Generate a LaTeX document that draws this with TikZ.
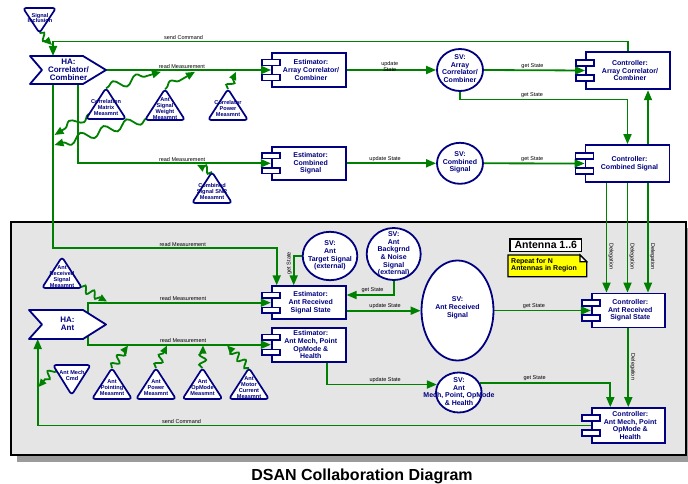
\documentclass[tikz,border=0pt]{standalone}
\usepackage{fontspec}
\setmainfont{Liberation Sans}
\usetikzlibrary{arrows.meta,decorations.pathmorphing,shapes.geometric}
\definecolor{lgreen}{RGB}{0,128,0}
\definecolor{navy}{RGB}{0,0,128}
\definecolor{panel}{RGB}{229,229,229}
\definecolor{shadowc}{RGB}{155,155,155}
\definecolor{noteyel}{RGB}{255,255,0}
\pgfdeclarelayer{bg}
\pgfdeclarelayer{mid}
\pgfsetlayers{bg,mid,main}
\newcommand\tkfs[2]{\fontsize{#1}{#2}\selectfont}
\tikzset{
  wire/.style={draw=lgreen, line width=1.8pt},
  conn/.style={wire, -{Triangle[length=10pt,width=8pt]}},
  squig/.style={wire, -{Triangle[length=9pt,width=7.5pt]}, decorate,
    decoration={snake, amplitude=4.5pt, segment length=24pt, pre length=1pt, post length=8pt}},
  squigs/.style={wire, -{Triangle[length=8pt,width=7pt]}, decorate,
    decoration={snake, amplitude=3.5pt, segment length=10pt, pre length=0pt, post length=5pt}},
  lbl/.style={font=\tkfs{5.5}{6}, text=black, inner sep=1pt},
  compbox/.style={draw=navy, fill=white, line width=1.8pt, inner sep=0pt},
  tabbox/.style={draw=navy, fill=white, line width=1.5pt},
  comptext/.style={font=\bfseries\tkfs{7}{7.6}, text=navy, align=center, inner sep=0pt},
  svshape/.style={ellipse, draw=navy, fill=white, line width=1.8pt, inner sep=0pt},
  svtext/.style={font=\bfseries\tkfs{7}{7.6}, text=navy, align=center, inner sep=0pt},
  trishape/.style={draw=navy, fill=white, line width=1.7pt, rounded corners=3pt, line join=round},
  tritext/.style={font=\bfseries\tkfs{5.6}{5.9}, text=navy, align=center, inner sep=0pt},
  hashape/.style={draw=navy, fill=white, line width=1.8pt, line join=round},
  hatext/.style={font=\bfseries\tkfs{8}{8}, text=navy, align=center, inner sep=0pt},
}
% component box: name, x, y, width, height
\newcommand\compnode[5]{%
  \node[compbox, minimum width=#4, minimum height=#5] (#1) at (#2,#3) {};
  \draw[tabbox] ([xshift=-9pt,yshift=10.4pt]#1.west) rectangle ([xshift=9pt,yshift=4.6pt]#1.west);
  \draw[tabbox] ([xshift=-9pt,yshift=-4.6pt]#1.west) rectangle ([xshift=9pt,yshift=-10.4pt]#1.west);
}
% upward triangle: name, apex x, apex y, text
\newcommand\uptri[4]{%
  \draw[trishape] (#2,#3) -- ++(20,31) -- ++(-40,0) -- cycle;
  \coordinate (#1) at (#2,#3);
  \node[tritext] (#1T) at (#2,#3+19.5) {#4};
}
\begin{document}
\begin{tikzpicture}[x=1pt,y=-1pt]
\useasboundingbox (0,0) rectangle (688,484);

% ---------- antenna panel ----------
\begin{pgfonlayer}{bg}
  \fill[shadowc] (17,228) rectangle (688,461.5);
  \draw[fill=panel, line width=2pt] (11,222) rectangle (686,455);
\end{pgfonlayer}

% ---------- HA: Correlator/Combiner ----------
\draw[hashape] (30,56) -- (83,56) -- (106,70) -- (83,84) -- (30,84) -- (42,70) -- cycle;
\node[hatext] (haC) at (68.5,70) {HA:\\Correlator/\\Combiner};
\coordinate (haCtip) at (106,70);
\coordinate (haCtop) at (53,56);
\coordinate (haCb1) at (53,84);
\coordinate (haCb2) at (78,84);

% Signal Inclusion (inverted triangle)
\draw[trishape] (23,8) -- (56,8) -- (39.5,33) -- cycle;
\coordinate (sigInc) at (39.5,33);
\node[tritext] (sigIncT) at (40,18) {Signal\\Inclusion};

% ---------- top row ----------
\compnode{eArr}{309}{70}{74}{34}
\node[comptext, xshift=2pt] (eArrT) at (eArr) {Estimator:\\Array Correlator/\\Combiner};
\node[svshape, minimum width=46, minimum height=42] (sArr) at (460,70) {};
\node[svtext] (sArrT) at (460,68.5) {SV:\\Array\\Correlator/\\Combiner};
\compnode{cArr}{628}{70.5}{84}{37.6}
\node[comptext, xshift=2pt] (cArrT) at (cArr) {Controller:\\Array Correlator/\\Combiner};

% ---------- second row ----------
\compnode{eComb}{308.7}{163.3}{74}{33}
\node[comptext, xshift=2pt] (eCombT) at (eComb) {Estimator:\\Combined\\Signal};
\node[svshape, minimum width=46, minimum height=41] (sComb) at (460,163.3) {};
\node[svtext] (sCombT) at (460,162.5) {SV:\\Combined\\Signal};
\compnode{cComb}{627.5}{163.5}{84}{37}
\node[comptext, xshift=2pt] (cCombT) at (cComb) {Controller:\\Combined Signal};

% measurement triangles (top)
\uptri{corrMat}{106}{88}{Correlation\\Matrix\\Measmnt}
\uptri{sigW}{165}{89}{Ant\\Signal\\Weight\\Measmnt}
\uptri{corrPow}{228}{89}{Correlator\\Power\\Measmnt}
\uptri{combSNR}{212}{172}{Combined\\Signal SNR\\Measmnt}

% ---------- antenna panel contents ----------
\node[draw=black, fill=white, line width=1.6pt, minimum width=71.7, minimum height=12.7, inner sep=0pt,
      font=\bfseries\tkfs{10.5}{12}] (ant16) at (545.8,245.3) {Antenna 1..6};
\draw[fill=noteyel, line width=1.2pt] (508,255) -- (580,255) -- (586.7,261.7) -- (586.7,276.7) -- (508,276.7) -- cycle;
\draw[fill=white, line width=1.2pt] (580,255) -- (580,261.7) -- (586.7,261.7) -- cycle;
\node[anchor=north west, font=\bfseries\tkfs{7}{7.4}, align=left, inner sep=0pt] (noteT) at (511,257.8) {Repeat for N\\Antennas in Region};

% HA: Ant
\draw[hashape] (29,310) -- (83,310) -- (106,324.5) -- (83,339) -- (29,339) -- (42,324.5) -- cycle;
\node[hatext] (haAnt) at (67.5,323.5) {HA:\\Ant};
\coordinate (haAntV) at (88,324);
\coordinate (haAntB) at (37.7,339);

\uptri{antRx}{62}{257}{Ant\\Received\\Signal\\Measmnt}
\uptri{antPt}{112}{368}{Ant\\Pointing\\Measmnt}
\uptri{antPw}{156}{368}{Ant\\Power\\Measmnt}
\uptri{antOp}{202.5}{368}{Ant\\OpMode\\Measmnt}
\uptri{antMot}{249}{368}{Ant\\Motor\\Current\\Measmnt}

% Ant Mech Cmd (inverted triangle)
\draw[trishape] (53,365) -- (90.7,365) -- (71.7,395) -- cycle;
\coordinate (antCmd) at (55.5,367);
\node[tritext] (antCmdT) at (72,375.5) {Ant Mech\\Cmd};

\compnode{eRx}{308.7}{302.7}{74}{33}
\node[comptext, xshift=2pt] (eRxT) at (eRx) {Estimator:\\Ant Received\\Signal State};
\compnode{eMech}{308.8}{344.7}{74}{34}
\node[comptext, xshift=2pt] (eMechT) at (eMech) {Estimator:\\Ant Mech, Point\\OpMode \&\\Health};

\node[svshape, minimum width=54.6, minimum height=48.4] (sTgt) at (330,256) {};
\node[svtext] (sTgtT) at (330,255.5) {SV:\\Ant\\Target Signal\\(external)};
\node[svshape, minimum width=54, minimum height=52] (sBg) at (393.7,254) {};
\node[svtext] (sBgT) at (393.7,254) {SV:\\Ant\\Backgrnd\\\& Noise\\Signal\\(external)};
\node[svshape, minimum width=72, minimum height=100] (sRx) at (457.5,310.5) {};
\node[svtext] (sRxT) at (457.5,307.7) {SV:\\Ant Received\\Signal};
\node[svshape, minimum width=45.6, minimum height=40] (sMech) at (458.8,392.5) {};
\node[svtext] (sMechT) at (459,391.5) {SV:\\Ant\\Mech, Point, OpMode\\\& Health};

\compnode{cRx}{628.3}{310.5}{73}{34}
\node[comptext, xshift=2pt] (cRxT) at (cRx) {Controller:\\Ant Received\\Signal State};
\compnode{cMech}{628.3}{425.5}{73}{35}
\node[comptext, xshift=2pt] (cMechT) at (cMech) {Controller:\\Ant Mech, Point\\OpMode \&\\Health};

% title
\node[font=\bfseries\tkfs{16}{18}] (title) at (362,476) {DSAN Collaboration Diagram};

% ---------- connectors ----------
\begin{pgfonlayer}{mid}
  % top
  \coordinate (scTop) at (300,41.5);
  \draw[conn] (cArr.north) -- (cArr.north |- scTop) -- node[lbl, above, pos=0.773] {send Command} (haCtop |- scTop) -- (haCtop);
  \draw[conn] (haCtip) -- node[lbl, above, pos=0.46] {read Measurement} (eArr.west);
  \coordinate (rm3) at (150,248);
  \coordinate (eRxIn) at ([xshift=-32pt]eRx.north);
  \draw[conn] (haCb1) -- (haCb1 |- rm3) -- node[lbl, above, pos=0.58] {read Measurement} (eRxIn |- rm3) -- (eRxIn);
  \draw[conn] (haCb2) -- (haCb2 |- eComb.west) -- node[lbl, above, pos=0.54] {read Measurement} (eComb.west);
  \draw[conn] (eArr.east) -- node[lbl, align=center, pos=0.48, yshift=3.3pt] {update\\State} (sArr.west);
  \draw[conn] (sArr.east) -- node[lbl, above, pos=0.48] {get State} (cArr.west);
  \coordinate (gs2) at (500,99.5);
  \draw[conn] (sArr.south) -- (sArr.south |- gs2) -- node[lbl, above, pos=0.43] {get State} (cComb.north |- gs2) -- (cComb.north);
  \coordinate (up1) at ([xshift=20.5pt]cComb.north);
  \draw[conn] (up1) -- (up1 |- cArr.south);
  \draw[conn] (eComb.east) -- node[lbl, above, pos=0.43] {update State} (sComb.west);
  \draw[conn] (sComb.east) -- node[lbl, above, pos=0.48] {get State} (cComb.west);
  % delegations
  \coordinate (d1) at ([xshift=-21pt]cComb.south);
  \coordinate (d2) at (cComb.south);
  \coordinate (d3) at ([xshift=20.5pt]cComb.south);
  \draw[conn] (d1) -- node[lbl, rotate=-90, anchor=south, pos=0.67] {Delegation} (d1 |- cRx.north);
  \draw[conn] (d2) -- node[lbl, rotate=-90, anchor=south, pos=0.67] {Delegation} (d2 |- cRx.north);
  \draw[conn] (d3) -- node[lbl, rotate=-90, anchor=south, pos=0.67] {Delegation} (d3 |- cRx.north);
  % panel
  \coordinate (eRxIn2) at ([xshift=-15pt]eRx.north);
  \draw[conn] (sTgt.west) -- (eRxIn2 |- sTgt.west) -- node[lbl, rotate=90, anchor=south, pos=0.25] {get State} (eRxIn2);
  \coordinate (eRxIn3) at ([yshift=7.7pt]eRx.east);
  \draw[conn] (sBg.south) -- (sBg.south |- eRxIn3) -- node[lbl, above, pos=0.45] {get State} (eRxIn3);
  \draw[conn] (haAntV |- eMech.west) -- (haAntV |- eRx.west) -- node[lbl, above, pos=0.52] {read Measurement} (eRx.west);
  \draw[conn] (haAntV |- eRx.west) -- (haAntV |- eMech.west) -- node[lbl, above, pos=0.52] {read Measurement} (eMech.west);
  \coordinate (uR) at ([yshift=-8pt]eRx.east);
  \draw[conn] (uR) -- node[lbl, above, pos=0.52] {update State} (uR -| sRx.west);
  \draw[conn] (sRx.east) -- node[lbl, above, pos=0.41] {get State} (cRx.west);
  \draw[conn] (cRx.south) -- node[lbl, rotate=-90, anchor=south, pos=0.49] {Delegation} (cMech.north);
  \coordinate (uM) at ([xshift=18pt]eMech.south);
  \draw[conn] (uM) -- (uM |- sMech.160) -- node[lbl, above, pos=0.53] {update State} (sMech.160);
  \coordinate (gM) at ([xshift=-18pt]cMech.north);
  \draw[conn] (sMech.25) -- node[lbl, above, pos=0.42] {get State} (gM |- sMech.25) -- (gM);
  \draw[conn] (cMech.west) -- node[lbl, above, pos=0.74] {send Command} (haAntB |- cMech.west) -- (haAntB);
  % squiggles
  \coordinate (siT) at (52,45);
  \coordinate (cm1) at (161,71.8);
  \coordinate (cm2) at (54.5,135);
  \coordinate (cm2s) at (89,114);
  \coordinate (sw1) at (195,71.8);
  \coordinate (sw2) at (54.5,145);
  \coordinate (sw2s) at (147.5,118);
  \coordinate (cp1) at (236,71.8);
  \coordinate (cs1) at (197,164.8);
  \coordinate (ar1) at (107,301.5);
  \coordinate (ar1s) at (81,287);
  \coordinate (ap1) at (128,345.5);
  \coordinate (aw1) at (167,345.5);
  \coordinate (ao1) at (203,345.5);
  \coordinate (am1) at (227,345.5);
  \coordinate (ac1) at (38.5,387);
  \draw[squigs] (sigInc) -- (siT);
  \draw[squig] (corrMat) -- (cm1);
  \draw[squig] (cm2s) -- (cm2);
  \draw[squig] (sigW) -- (sw1);
  \draw[squig] (sw2s) -- (sw2);
  \draw[squigs] (corrPow) -- (cp1);
  \draw[squigs] (combSNR) -- (cs1);
  \draw[squigs] (ar1s) -- (ar1);
  \draw[squigs] (antPt) -- (ap1);
  \draw[squigs] (antPw) -- (aw1);
  \draw[squigs] (antOp) -- (ao1);
  \draw[squigs] (antMot) -- (am1);
  \draw[squigs] (antCmd) -- (ac1);
\end{pgfonlayer}
\end{tikzpicture}
\end{document}
